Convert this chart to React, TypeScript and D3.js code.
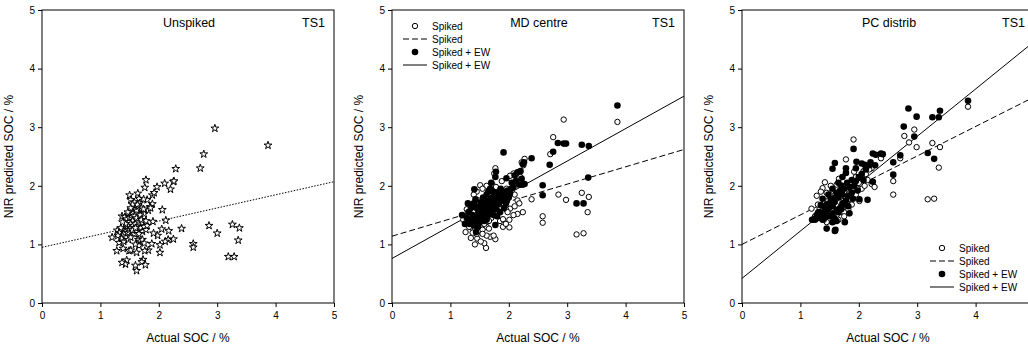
import React, { useRef, useEffect } from "react";
import * as d3 from "d3";

type Pt = [number, number];

// Panel 1: unspiked predictions (stars)
const unspiked: Pt[] = [
  [2.96, 2.98], [3.87, 2.69], [2.77, 2.54], [2.71, 2.30], [2.29, 2.29], [2.25, 2.07], [2.26, 2.08],
  [2.20, 1.94], [2.10, 2.04], [1.97, 1.98], [2.06, 1.59], [2.12, 1.41], [2.39, 1.27], [2.86, 1.32],
  [3.00, 1.19], [3.26, 1.34], [3.38, 1.28], [3.36, 1.07], [3.19, 0.79], [3.29, 0.79], [2.59, 1.01],
  [2.59, 0.95], [2.25, 1.09], [2.16, 1.08], [2.11, 1.05], [2.05, 1.26], [2.17, 1.23], [2.02, 0.99],
  [2.02, 0.86], [1.98, 1.15], [1.91, 1.19], [1.90, 1.39], [1.89, 1.69], [1.85, 1.64], [1.89, 1.84],
  [1.92, 1.88], [1.78, 2.10], [1.76, 1.97], [1.80, 1.76], [1.74, 1.77], [1.88, 1.01], [1.82, 0.90],
  [1.76, 0.89], [1.73, 0.74], [1.71, 0.70], [1.77, 0.65], [1.62, 0.55], [1.60, 0.64], [1.62, 0.86],
  [1.49, 0.89], [1.52, 0.90], [1.45, 0.73], [1.43, 0.66], [1.37, 0.69], [1.28, 0.89], [1.39, 0.93],
  [1.20, 1.12], [1.29, 1.24], [1.32, 1.03], [1.50, 1.84], [1.52, 1.76], [1.64, 1.87], [1.66, 1.78],
  [1.37, 1.48], [1.42, 1.47], [1.45, 1.43], [1.48, 1.38], [1.50, 1.45], [1.53, 1.50], [1.55, 1.55],
  [1.57, 1.60], [1.60, 1.62], [1.62, 1.58], [1.65, 1.65], [1.67, 1.70], [1.70, 1.62], [1.72, 1.55],
  [1.75, 1.52], [1.58, 1.48], [1.55, 1.40], [1.52, 1.35], [1.48, 1.30], [1.45, 1.26], [1.42, 1.22],
  [1.40, 1.18], [1.38, 1.14], [1.36, 1.10], [1.40, 1.05], [1.44, 1.12], [1.47, 1.20], [1.50, 1.25],
  [1.53, 1.28], [1.56, 1.32], [1.60, 1.35], [1.63, 1.30], [1.66, 1.38], [1.69, 1.28], [1.72, 1.22],
  [1.75, 1.30], [1.78, 1.25], [1.80, 1.32], [1.62, 1.22], [1.58, 1.18], [1.55, 1.24], [1.65, 1.08],
  [1.68, 1.05], [1.72, 1.08], [1.75, 1.02], [1.66, 0.98], [1.60, 1.00], [1.62, 1.45], [1.68, 1.50],
  [1.70, 1.42], [1.58, 1.72], [1.63, 1.68], [1.55, 1.68], [1.52, 1.62], [1.47, 1.55], [1.43, 1.35],
  [1.35, 1.28], [1.32, 1.20], [1.30, 1.15], [1.38, 1.38], [1.48, 1.08], [1.52, 1.12], [1.78, 1.40],
  [1.82, 1.58], [1.86, 1.62], [1.74, 1.60], [1.60, 1.28], [1.66, 1.18],
];

// Panel 2: MD centre
const mdSpiked: Pt[] = [
  [2.94, 3.13], [3.86, 3.09], [2.76, 2.83], [2.71, 2.54], [3.25, 1.88], [3.37, 1.81], [2.85, 1.85],
  [2.98, 1.76], [2.39, 1.77], [3.35, 1.55], [2.58, 1.48], [2.58, 1.37], [3.16, 1.17], [3.28, 1.19],
  [2.27, 2.46], [2.22, 2.40], [2.25, 2.35], [2.08, 2.21], [2.02, 2.17], [1.77, 2.30], [1.75, 2.21],
  [1.51, 2.01], [1.62, 2.00], [1.55, 1.95], [1.45, 1.90], [1.40, 1.85], [2.24, 1.55], [2.15, 1.52],
  [2.08, 1.50], [2.02, 1.61], [2.01, 1.42], [2.01, 1.29], [1.85, 1.40], [1.90, 1.43], [1.62, 1.30],
  [1.66, 1.27], [1.68, 1.13], [1.77, 1.09], [1.74, 1.15], [1.61, 0.94], [1.58, 1.02], [1.42, 1.00],
  [1.35, 1.11], [1.46, 1.10], [1.26, 1.21], [1.25, 1.46], [1.22, 1.42], [1.28, 1.60], [1.30, 1.55],
  [1.35, 1.35], [1.38, 1.28], [1.42, 1.25], [1.48, 1.22], [1.50, 1.30], [1.52, 1.38], [1.55, 1.45],
  [1.58, 1.52], [1.60, 1.60], [1.63, 1.70], [1.65, 1.78], [1.68, 1.85], [1.70, 1.92], [1.72, 2.02],
  [1.78, 1.98], [1.82, 1.90], [1.85, 1.82], [1.88, 1.75], [1.92, 1.68], [1.95, 1.60], [1.98, 1.55],
  [1.72, 1.55], [1.70, 1.45], [1.66, 1.40], [1.58, 1.35], [1.55, 1.25], [1.48, 1.40], [1.45, 1.50],
  [1.40, 1.55], [1.50, 1.60], [1.55, 1.70], [1.60, 1.80], [1.48, 1.75], [1.42, 1.65], [1.35, 1.50],
  [1.80, 1.55], [1.85, 1.60], [1.92, 1.85], [1.96, 1.95], [2.05, 1.90], [2.10, 1.85], [2.15, 1.75],
  [2.18, 1.70], [2.12, 2.05], [2.20, 2.15], [1.88, 2.08], [1.90, 1.30], [1.95, 1.35], [2.10, 1.65],
  [1.62, 1.15], [1.55, 1.18], [1.52, 1.05], [1.45, 1.18], [1.38, 1.20], [1.32, 1.30],
];

const mdSpikedEW: Pt[] = [
  [3.86, 3.37], [2.84, 2.73], [2.94, 2.72], [2.98, 2.72], [3.25, 2.70], [3.37, 2.68], [2.76, 2.58],
  [2.70, 2.36], [2.39, 2.47], [3.36, 2.14], [2.58, 2.01], [2.58, 1.84], [3.16, 1.70], [3.28, 1.70],
  [1.91, 2.57], [2.24, 2.37], [2.26, 2.40], [2.20, 2.25], [2.15, 2.23], [2.10, 2.18], [2.22, 2.12],
  [2.23, 2.02], [2.27, 2.03], [2.18, 2.02], [2.08, 1.98], [2.02, 1.87], [1.96, 2.13], [1.85, 1.80],
  [1.79, 1.60], [1.77, 2.15], [1.78, 2.24], [1.77, 1.33], [1.44, 1.21], [1.41, 1.94], [1.43, 1.77],
  [1.30, 1.70], [1.20, 1.50], [1.25, 1.35], [1.28, 1.45], [1.32, 1.55], [1.35, 1.62], [1.38, 1.50],
  [1.40, 1.40], [1.42, 1.32], [1.45, 1.45], [1.48, 1.55], [1.50, 1.65], [1.52, 1.72], [1.55, 1.60],
  [1.58, 1.68], [1.60, 1.75], [1.62, 1.85], [1.65, 1.90], [1.68, 1.95], [1.70, 2.05], [1.72, 1.80],
  [1.75, 1.72], [1.78, 1.65], [1.80, 1.78], [1.82, 1.88], [1.86, 1.95], [1.90, 1.90], [1.93, 1.82],
  [1.97, 1.75], [2.00, 1.80], [2.04, 1.95], [1.55, 1.48], [1.58, 1.40], [1.60, 1.55], [1.62, 1.62],
  [1.65, 1.50], [1.68, 1.58], [1.70, 1.68], [1.72, 1.60], [1.74, 1.50], [1.50, 1.38], [1.47, 1.30],
  [1.52, 1.50], [1.56, 1.80], [1.64, 1.72], [1.66, 1.65], [1.69, 1.78], [1.73, 1.90], [1.76, 1.85],
  [1.83, 1.70], [1.88, 1.75], [1.92, 1.62], [1.95, 1.70], [1.98, 1.92], [2.05, 2.05], [2.12, 2.08],
  [1.45, 1.62], [1.40, 1.70], [1.36, 1.42], [1.33, 1.35], [1.62, 1.42], [1.85, 1.55], [1.80, 1.48],
];

// Panel 3: PC distrib
const pcSpiked: Pt[] = [
  [3.87, 3.35], [2.95, 2.96], [2.78, 2.85], [2.86, 2.74], [2.99, 2.66], [3.26, 2.73], [3.39, 2.66],
  [3.37, 2.31], [2.71, 2.47], [2.38, 2.47], [2.59, 2.08], [2.59, 1.85], [3.18, 1.77], [3.29, 1.78],
  [1.91, 2.79], [1.78, 2.45], [1.42, 2.06], [1.38, 1.96], [1.28, 1.83], [1.19, 1.61], [1.52, 2.00],
  [1.66, 2.12], [1.92, 2.24], [2.08, 2.25], [2.22, 2.30], [2.22, 2.03], [2.27, 1.98], [2.01, 1.74],
  [1.35, 1.90], [1.45, 1.88], [1.55, 1.92], [1.60, 1.85], [1.48, 1.75], [1.40, 1.70], [1.33, 1.62],
  [1.30, 1.55], [1.25, 1.48], [1.35, 1.45], [1.42, 1.52], [1.50, 1.60], [1.58, 1.68], [1.65, 1.75],
  [1.70, 1.82], [1.75, 1.90], [1.80, 1.98], [1.85, 2.05], [1.90, 2.10], [1.95, 2.15], [2.00, 2.05],
  [2.05, 1.95], [2.10, 2.00], [2.15, 2.10], [1.72, 1.62], [1.68, 1.55], [1.62, 1.50], [1.55, 1.45],
  [1.50, 1.40], [1.45, 1.38], [1.40, 1.42], [1.80, 1.70], [1.85, 1.78], [1.95, 1.85], [1.98, 1.95],
  [1.60, 1.40], [1.65, 1.42], [1.75, 1.55], [1.82, 1.60], [1.88, 1.68], [1.52, 1.55], [1.57, 1.62],
  [1.63, 1.68], [1.68, 1.72], [1.78, 1.80], [1.47, 1.50], [1.38, 1.58], [1.72, 2.00], [1.62, 2.02],
  [2.12, 2.20], [2.18, 2.28], [1.30, 1.68], [1.55, 1.78], [1.88, 1.92], [2.02, 2.15], [1.75, 1.48],
];

const pcSpikedEW: Pt[] = [
  [3.87, 3.45], [2.85, 3.32], [2.99, 3.18], [3.26, 3.17], [3.37, 3.17], [3.39, 3.28], [2.77, 3.01],
  [2.95, 2.84], [2.38, 2.55], [2.71, 2.52], [2.59, 2.40], [3.18, 2.56], [3.29, 2.46], [2.59, 2.19],
  [1.55, 2.29], [1.59, 2.39], [1.91, 2.63], [1.96, 2.41], [1.78, 2.30], [1.78, 2.22], [2.10, 2.36],
  [2.24, 2.55], [2.29, 2.53], [2.41, 2.54], [2.28, 2.35], [2.24, 2.07], [2.01, 1.77], [2.15, 1.76],
  [1.84, 1.53], [1.76, 1.38], [1.59, 1.23], [1.60, 1.25], [1.45, 1.27], [1.23, 1.43], [1.28, 1.50],
  [1.35, 1.67], [1.38, 1.78], [1.20, 1.42], [1.25, 1.42], [1.30, 1.45], [1.32, 1.55], [1.35, 1.50],
  [1.40, 1.55], [1.42, 1.62], [1.45, 1.68], [1.48, 1.60], [1.50, 1.70], [1.52, 1.78], [1.55, 1.65],
  [1.58, 1.72], [1.60, 1.80], [1.62, 1.88], [1.65, 1.80], [1.68, 1.92], [1.70, 2.00], [1.72, 1.85],
  [1.75, 1.95], [1.80, 2.05], [1.85, 1.98], [1.88, 2.10], [1.92, 2.00], [1.95, 2.08], [2.00, 2.15],
  [2.05, 2.20], [2.08, 2.10], [2.12, 2.28], [2.18, 2.35], [2.20, 2.40], [1.50, 1.48], [1.55, 1.52],
  [1.62, 1.58], [1.68, 1.62], [1.72, 1.70], [1.78, 1.75], [1.82, 1.82], [1.88, 1.88], [1.40, 1.45],
  [1.45, 1.50], [1.58, 1.45], [1.65, 1.55], [1.70, 1.60], [1.75, 1.68], [1.48, 1.85], [1.55, 1.95],
  [1.65, 2.05], [1.72, 2.15], [1.82, 1.65], [1.90, 1.78], [1.98, 1.92], [1.55, 1.38], [1.62, 1.40],
  [1.38, 1.42], [1.95, 2.30], [2.05, 2.38],
];

// regression lines: [intercept, slope]
const unspikedFit: Pt = [0.95, 0.224];
const mdSpikedFit: Pt = [1.14, 0.296];
const mdSpikedEWFit: Pt = [0.76, 0.554];
const pcSpikedFit: Pt = [1.0, 0.503];
const pcSpikedEWFit: Pt = [0.42, 0.808];

const ticks = [0, 1, 2, 3, 4, 5];
const legendLabels = ["Spiked", "Spiked", "Spiked + EW", "Spiked + EW"];

const FONT = "Liberation Sans, Arial, Helvetica, sans-serif";

const App: React.FC = () => {
  const svgRef = useRef<SVGSVGElement>(null);

  useEffect(() => {
    const width = 1028;
    const height = 351;
    const top = 10;
    const bottom = 303;
    const plotW = 292;

    const svg = d3.select(svgRef.current);
    svg.selectAll("*").remove();
    svg.attr("width", width).attr("height", height);

    const panels = [
      { x0: 42, title: "Unspiked", stars: unspiked, fits: [{ f: unspikedFit, dash: "1.5,1.5" }], legendX: 0, legendY: 0 },
      {
        x0: 392, title: "MD centre", open: mdSpiked, filled: mdSpikedEW,
        fits: [{ f: mdSpikedFit, dash: "6,3" }, { f: mdSpikedEWFit, dash: null }],
        legendX: 11, legendY: 26,
      },
      {
        x0: 742, title: "PC distrib", open: pcSpiked, filled: pcSpikedEW,
        fits: [{ f: pcSpikedFit, dash: "6,3" }, { f: pcSpikedEWFit, dash: null }],
        legendX: 188, legendY: 248,
      },
    ];

    const yScale = d3.scaleLinear().domain([0, 5]).range([bottom, top]);

    panels.forEach((p, i) => {
      const xScale = d3.scaleLinear().domain([0, 5]).range([p.x0, p.x0 + plotW]);
      const g = svg.append("g");

      // box
      g.append("rect")
        .attr("x", p.x0).attr("y", top)
        .attr("width", plotW).attr("height", bottom - top)
        .attr("fill", "none").attr("stroke", "#000").attr("stroke-width", 1);

      // axes (the last panel's "5" falls outside the picture)
      const xTicks = ticks.filter(t => xScale(t) <= width - 4);
      const yAxis = g.append("g")
        .attr("transform", `translate(${p.x0},0)`)
        .call(d3.axisLeft(yScale).tickValues(ticks).tickFormat(d3.format("d")).tickSize(4).tickPadding(3));
      const xAxis = g.append("g")
        .attr("transform", `translate(0,${bottom})`)
        .call(d3.axisBottom(xScale).tickValues(xTicks).tickFormat(d3.format("d")).tickSize(4).tickPadding(5));
      [yAxis, xAxis].forEach(a => {
        a.select(".domain").remove();
        a.selectAll("text").attr("font-family", FONT).attr("font-size", 10).attr("fill", "#000");
      });

      // axis titles
      g.append("text")
        .attr("transform", `translate(${p.x0 - 29},${(top + bottom) / 2}) rotate(-90)`)
        .attr("text-anchor", "middle")
        .attr("font-family", FONT).attr("font-size", 12)
        .text("NIR predicted SOC / %");
      g.append("text")
        .attr("x", p.x0 + plotW / 2).attr("y", 342)
        .attr("text-anchor", "middle")
        .attr("font-family", FONT).attr("font-size", 12)
        .text("Actual SOC / %");

      // panel titles
      g.append("text")
        .attr("x", p.x0 + 147).attr("y", 27)
        .attr("text-anchor", "middle")
        .attr("font-family", FONT).attr("font-size", 12.5)
        .text(p.title);
      g.append("text")
        .attr("x", p.x0 + 283).attr("y", 27)
        .attr("text-anchor", "end")
        .attr("font-family", FONT).attr("font-size", 12.5)
        .text("TS1");

      // regression lines
      const line = d3.line<number>().x(d => xScale(d));
      p.fits.forEach(({ f, dash }) => {
        g.append("path")
          .datum([0, 5])
          .attr("d", line.y(d => yScale(f[0] + f[1] * d)))
          .attr("fill", "none")
          .attr("stroke", "#000")
          .attr("stroke-width", 1)
          .attr("stroke-dasharray", dash);
      });

      // markers
      if ("stars" in p && p.stars) {
        const star = d3.symbol().type(d3.symbolStar).size(19);
        g.selectAll(".star")
          .data(p.stars)
          .enter()
          .append("path")
          .attr("d", star)
          .attr("transform", d => `translate(${xScale(d[0])},${yScale(d[1])})`)
          .attr("fill", "#fff")
          .attr("stroke", "#000")
          .attr("stroke-width", 1);
      }
      if ("open" in p && p.open) {
        g.selectAll(".open")
          .data(p.open)
          .enter()
          .append("circle")
          .attr("cx", d => xScale(d[0]))
          .attr("cy", d => yScale(d[1]))
          .attr("r", 2.7)
          .attr("fill", "#fff")
          .attr("stroke", "#000")
          .attr("stroke-width", 1);
        g.selectAll(".filled")
          .data(p.filled)
          .enter()
          .append("circle")
          .attr("cx", d => xScale(d[0]))
          .attr("cy", d => yScale(d[1]))
          .attr("r", 3.3)
          .attr("fill", "#000");
      }

      // legend
      if (i > 0) {
        const lx = p.x0 + p.legendX;
        const ly = p.legendY;
        const lg = g.append("g").attr("font-family", FONT).attr("font-size", 10);
        legendLabels.forEach((lab, k) => {
          const yy = ly + k * 13;
          if (k === 0) {
            lg.append("circle").attr("cx", lx + 12).attr("cy", yy).attr("r", 2.7)
              .attr("fill", "#fff").attr("stroke", "#000");
          } else if (k === 2) {
            lg.append("circle").attr("cx", lx + 12).attr("cy", yy).attr("r", 3.3).attr("fill", "#000");
          } else {
            lg.append("line").attr("x1", lx).attr("x2", lx + 24).attr("y1", yy).attr("y2", yy)
              .attr("stroke", "#000").attr("stroke-width", 1)
              .attr("stroke-dasharray", k === 1 ? "6,3" : null);
          }
          lg.append("text").attr("x", lx + 29).attr("y", yy).attr("dy", "0.35em").text(lab);
        });
      }
    });
  }, []);

  return (
    <div style={{ position: "absolute", left: 0, top: 0, width: 1028, height: 351, overflow: "hidden", background: "#fff" }}>
      <svg ref={svgRef} style={{ display: "block" }} />
    </div>
  );
};

export default App;
